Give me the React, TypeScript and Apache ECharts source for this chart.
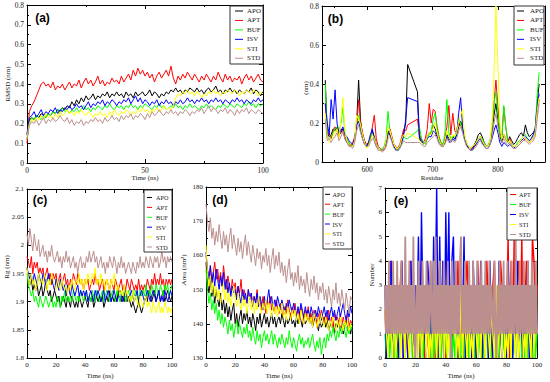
import React, { useEffect, useRef } from "react";
import * as echarts from "echarts";

const SERIF = "'Liberation Serif', 'DejaVu Serif', serif";
const SANS = "'Liberation Sans', Arial, sans-serif";

const names6 = ["APO", "APT", "BUF", "ISV", "STI", "STD"];
const names5 = ["APT", "BUF", "ISV", "STI", "STD"];
const colorOf: Record<string, string> = {
  APO: "#000000", APT: "#ff0000", BUF: "#00ff00", ISV: "#0000ff", STI: "#ffff00", STD: "#bc8f8f",
};

// ---------- time axes (ns) ----------
const time101 = Array.from({ length: 101 }, (_, i) => i);
const time151 = Array.from({ length: 151 }, (_, i) => (i * 100) / 150);

// ---------- (a) RMSD (nm) ----------
const rmsdAPO = [0.15,
  0.22,0.23,0.22,0.24,0.23,0.25,0.24,0.23,0.25,0.24,
  0.26,0.25,0.27,0.26,0.28,0.27,0.29,0.28,0.31,0.29,
  0.32,0.30,0.33,0.31,0.34,0.32,0.33,0.35,0.32,0.34,
  0.33,0.35,0.34,0.36,0.33,0.35,0.34,0.36,0.34,0.35,
  0.33,0.36,0.34,0.35,0.33,0.36,0.34,0.35,0.36,0.34,
  0.35,0.37,0.34,0.36,0.35,0.33,0.35,0.34,0.36,0.35,
  0.37,0.36,0.38,0.36,0.37,0.35,0.37,0.36,0.38,0.37,
  0.36,0.38,0.36,0.37,0.35,0.37,0.38,0.36,0.37,0.39,
  0.36,0.37,0.35,0.37,0.36,0.38,0.36,0.37,0.35,0.37,
  0.36,0.35,0.37,0.36,0.38,0.35,0.37,0.36,0.34,0.36];
const rmsdAPT = [0.10,
  0.26,0.29,0.31,0.34,0.37,0.40,0.41,0.39,0.40,0.38,
  0.41,0.37,0.39,0.38,0.40,0.37,0.39,0.41,0.38,0.40,
  0.39,0.42,0.38,0.41,0.43,0.40,0.42,0.39,0.41,0.44,
  0.40,0.42,0.39,0.41,0.40,0.43,0.41,0.42,0.40,0.44,
  0.41,0.43,0.45,0.42,0.47,0.44,0.48,0.45,0.47,0.44,
  0.46,0.43,0.45,0.41,0.44,0.46,0.43,0.45,0.47,0.44,
  0.49,0.43,0.40,0.44,0.42,0.45,0.43,0.46,0.44,0.42,
  0.45,0.43,0.41,0.44,0.42,0.45,0.43,0.41,0.44,0.42,
  0.46,0.43,0.41,0.45,0.42,0.44,0.41,0.43,0.42,0.44,
  0.40,0.43,0.45,0.42,0.44,0.41,0.43,0.45,0.42,0.41];
const rmsdBUF = [0.12,
  0.21,0.23,0.22,0.24,0.23,0.22,0.24,0.23,0.25,0.24,
  0.26,0.25,0.27,0.25,0.28,0.26,0.27,0.25,0.27,0.26,
  0.28,0.26,0.27,0.29,0.27,0.28,0.26,0.28,0.27,0.29,
  0.28,0.27,0.29,0.28,0.30,0.28,0.27,0.29,0.28,0.29,
  0.27,0.29,0.28,0.30,0.28,0.29,0.27,0.29,0.28,0.30,
  0.29,0.28,0.27,0.29,0.28,0.30,0.28,0.29,0.27,0.28,
  0.29,0.28,0.30,0.28,0.29,0.27,0.29,0.28,0.30,0.28,
  0.29,0.28,0.27,0.29,0.28,0.30,0.28,0.29,0.28,0.27,
  0.29,0.28,0.30,0.29,0.28,0.30,0.29,0.28,0.30,0.29,
  0.28,0.30,0.29,0.31,0.29,0.30,0.28,0.30,0.29,0.30];
const rmsdISV = [0.14,
  0.23,0.24,0.26,0.23,0.25,0.27,0.24,0.26,0.25,0.27,
  0.26,0.28,0.25,0.27,0.26,0.28,0.27,0.29,0.27,0.28,
  0.30,0.28,0.29,0.27,0.29,0.31,0.28,0.30,0.29,0.31,
  0.30,0.32,0.29,0.31,0.30,0.32,0.31,0.29,0.31,0.30,
  0.32,0.31,0.33,0.30,0.32,0.34,0.31,0.33,0.30,0.32,
  0.31,0.29,0.31,0.30,0.32,0.29,0.31,0.30,0.32,0.30,
  0.31,0.29,0.31,0.30,0.32,0.30,0.31,0.33,0.31,0.32,
  0.30,0.32,0.31,0.33,0.31,0.32,0.30,0.32,0.31,0.33,
  0.31,0.32,0.30,0.32,0.31,0.30,0.32,0.31,0.33,0.31,
  0.32,0.30,0.32,0.31,0.30,0.32,0.31,0.33,0.31,0.32];
const rmsdSTI = [0.13,
  0.20,0.22,0.21,0.23,0.22,0.24,0.22,0.25,0.23,0.24,
  0.22,0.25,0.23,0.26,0.24,0.25,0.27,0.25,0.26,0.24,
  0.26,0.25,0.27,0.25,0.24,0.26,0.25,0.23,0.25,0.24,
  0.26,0.24,0.25,0.23,0.26,0.24,0.27,0.25,0.24,0.26,
  0.25,0.27,0.26,0.24,0.26,0.25,0.27,0.26,0.28,0.26,
  0.27,0.25,0.27,0.26,0.28,0.26,0.27,0.29,0.27,0.28,
  0.27,0.29,0.33,0.35,0.34,0.36,0.35,0.37,0.35,0.36,
  0.34,0.36,0.35,0.33,0.35,0.34,0.36,0.35,0.37,0.35,
  0.36,0.34,0.36,0.35,0.37,0.36,0.35,0.37,0.36,0.34,
  0.36,0.35,0.37,0.36,0.35,0.37,0.36,0.34,0.36,0.35];
const rmsdSTD = [0.12,
  0.19,0.21,0.20,0.22,0.19,0.21,0.23,0.20,0.22,0.21,
  0.23,0.21,0.22,0.24,0.22,0.21,0.23,0.20,0.22,0.19,
  0.21,0.20,0.22,0.19,0.21,0.20,0.22,0.21,0.23,0.21,
  0.22,0.20,0.23,0.21,0.22,0.24,0.22,0.23,0.21,0.24,
  0.22,0.24,0.23,0.25,0.22,0.24,0.23,0.25,0.24,0.22,
  0.25,0.23,0.26,0.24,0.25,0.27,0.25,0.24,0.26,0.25,
  0.27,0.25,0.26,0.24,0.26,0.25,0.27,0.26,0.24,0.26,
  0.25,0.27,0.26,0.28,0.25,0.27,0.29,0.26,0.28,0.27,
  0.25,0.27,0.26,0.28,0.25,0.27,0.26,0.24,0.27,0.25,
  0.27,0.26,0.28,0.25,0.27,0.26,0.25,0.27,0.26,0.25];

// ---------- (b) RMSF (nm) per residue ----------
const residues = [536,539,542,545,548,551,554,557,560,563,566,569,572,575,578,581,584,587,590,593,596,599,602,605,608,611,614,617,620,623,626,629,632,635,638,641,644,647,650,653,656,659,662,
  677,680,683,686,689,692,695,698,701,704,707,710,713,716,719,722,725,728,731,734,737,740,743,746,749,752,755,758,761,764,767,770,773,776,779,782,785,788,791,794,797,800,803,806,809,812,815,818,821,824,827,830,833,836,839,842,845,848,851,854,857,860,863];
const rmsfAPO = [0.42,0.15,0.13,0.14,0.17,0.16,0.18,0.14,0.15,0.17,0.12,0.10,0.09,0.08,0.09,0.12,0.20,0.42,0.21,0.14,0.10,0.08,0.09,0.12,0.16,0.13,0.09,0.07,0.06,0.06,0.07,0.10,0.16,0.14,0.11,0.08,0.07,0.06,0.08,0.11,0.15,0.20,0.50,
  0.36,0.12,0.10,0.09,0.10,0.13,0.15,0.14,0.19,0.17,0.14,0.11,0.09,0.08,0.10,0.14,0.12,0.11,0.13,0.12,0.14,0.18,0.21,0.17,0.12,0.09,0.07,0.06,0.07,0.09,0.11,0.14,0.15,0.13,0.10,0.08,0.08,0.10,0.15,0.24,0.30,0.22,0.13,0.10,0.14,0.12,0.10,0.13,0.11,0.09,0.10,0.12,0.14,0.15,0.13,0.19,0.15,0.13,0.14,0.15,0.17,0.30,0.40];
const rmsfAPT = [0.30,0.14,0.15,0.12,0.16,0.18,0.16,0.13,0.17,0.15,0.13,0.11,0.10,0.08,0.10,0.13,0.18,0.32,0.20,0.15,0.11,0.09,0.10,0.11,0.18,0.24,0.12,0.08,0.07,0.06,0.06,0.08,0.14,0.17,0.13,0.09,0.08,0.07,0.09,0.13,0.17,0.16,0.19,
  0.22,0.14,0.12,0.10,0.12,0.17,0.30,0.20,0.27,0.26,0.18,0.13,0.10,0.09,0.12,0.18,0.29,0.14,0.25,0.16,0.15,0.20,0.19,0.16,0.12,0.09,0.08,0.07,0.07,0.08,0.10,0.12,0.13,0.11,0.09,0.08,0.08,0.10,0.17,0.30,0.42,0.28,0.15,0.12,0.28,0.18,0.11,0.12,0.09,0.08,0.07,0.08,0.09,0.10,0.11,0.12,0.11,0.10,0.11,0.12,0.15,0.25,0.32];
const rmsfBUF = [0.40,0.13,0.12,0.13,0.15,0.17,0.18,0.15,0.20,0.28,0.15,0.12,0.10,0.09,0.08,0.11,0.22,0.24,0.18,0.13,0.10,0.08,0.09,0.13,0.15,0.12,0.09,0.07,0.06,0.07,0.08,0.12,0.26,0.15,0.12,0.08,0.07,0.06,0.08,0.10,0.13,0.12,0.12,
  0.16,0.18,0.12,0.10,0.09,0.12,0.14,0.16,0.22,0.25,0.17,0.12,0.10,0.09,0.15,0.32,0.15,0.12,0.13,0.13,0.16,0.22,0.20,0.17,0.13,0.10,0.08,0.07,0.08,0.09,0.10,0.12,0.13,0.12,0.10,0.08,0.09,0.11,0.18,0.30,0.36,0.25,0.14,0.12,0.29,0.18,0.11,0.10,0.09,0.08,0.08,0.10,0.11,0.12,0.13,0.14,0.12,0.11,0.12,0.14,0.16,0.34,0.46];
const rmsfISV = [0.30,0.20,0.14,0.32,0.22,0.37,0.20,0.15,0.16,0.18,0.14,0.13,0.11,0.10,0.09,0.12,0.19,0.21,0.16,0.12,0.09,0.08,0.10,0.14,0.17,0.11,0.08,0.07,0.06,0.06,0.07,0.10,0.15,0.14,0.11,0.08,0.06,0.06,0.07,0.10,0.14,0.22,0.33,
  0.31,0.13,0.11,0.09,0.10,0.12,0.13,0.13,0.16,0.15,0.13,0.10,0.09,0.08,0.10,0.13,0.11,0.10,0.12,0.11,0.14,0.25,0.33,0.18,0.12,0.09,0.07,0.06,0.06,0.08,0.09,0.11,0.12,0.10,0.08,0.07,0.07,0.09,0.12,0.16,0.19,0.15,0.10,0.08,0.10,0.09,0.08,0.09,0.08,0.07,0.08,0.09,0.10,0.11,0.12,0.13,0.12,0.11,0.12,0.14,0.17,0.28,0.35];
const rmsfSTI = [0.25,0.12,0.10,0.11,0.13,0.15,0.17,0.12,0.22,0.33,0.16,0.11,0.09,0.08,0.08,0.11,0.24,0.22,0.19,0.14,0.10,0.07,0.08,0.11,0.14,0.12,0.09,0.07,0.06,0.06,0.07,0.11,0.18,0.16,0.12,0.09,0.07,0.07,0.08,0.12,0.14,0.13,0.15,
  0.12,0.11,0.10,0.09,0.10,0.13,0.15,0.14,0.18,0.20,0.15,0.11,0.09,0.08,0.11,0.16,0.13,0.11,0.14,0.13,0.15,0.21,0.24,0.27,0.14,0.10,0.08,0.07,0.08,0.09,0.10,0.12,0.13,0.11,0.09,0.08,0.08,0.11,0.20,0.45,0.80,0.50,0.20,0.12,0.14,0.12,0.10,0.11,0.09,0.08,0.08,0.09,0.10,0.12,0.13,0.12,0.11,0.10,0.11,0.12,0.15,0.26,0.33];
const rmsfSTD = [0.22,0.11,0.12,0.10,0.12,0.13,0.15,0.11,0.13,0.16,0.12,0.10,0.08,0.08,0.07,0.10,0.16,0.19,0.15,0.12,0.09,0.08,0.08,0.10,0.12,0.11,0.08,0.06,0.06,0.05,0.06,0.08,0.12,0.13,0.10,0.07,0.06,0.06,0.07,0.09,0.11,0.10,0.10,
  0.10,0.10,0.09,0.08,0.08,0.10,0.11,0.12,0.13,0.14,0.12,0.09,0.08,0.08,0.09,0.12,0.10,0.10,0.11,0.10,0.12,0.16,0.18,0.15,0.11,0.08,0.07,0.06,0.06,0.07,0.08,0.10,0.11,0.09,0.08,0.07,0.07,0.09,0.13,0.20,0.25,0.18,0.12,0.10,0.12,0.10,0.09,0.10,0.08,0.07,0.07,0.08,0.09,0.10,0.11,0.11,0.10,0.09,0.10,0.11,0.13,0.22,0.30];

// ---------- (c) Rg (nm) ----------
const rgAPO = [1.96,1.94,1.93,1.94,1.92,1.93,1.92,1.93,1.91,1.92,
  1.93,1.91,1.92,1.94,1.92,1.91,1.92,1.90,1.91,1.92,
  1.91,1.90,1.91,1.89,1.90,1.91,1.90,1.89,1.91,1.90,
  1.89,1.91,1.90,1.89,1.90,1.89,1.91,1.90,1.89,1.90,
  1.91,1.90,1.89,1.91,1.90,1.91,1.89,1.90,1.91,1.90,
  1.91,1.90,1.91,1.89,1.90,1.91,1.90,1.92,1.90,1.91,
  1.90,1.91,1.90,1.92,1.91,1.90,1.91,1.90,1.92,1.90,
  1.91,1.90,1.89,1.90,1.89,1.88,1.89,1.90,1.89,1.88,
  1.89,1.90,1.91,1.90,1.92,1.91,1.90,1.91,1.92,1.90,
  1.91,1.92,1.90,1.91,1.92,1.90,1.91,1.92,1.91,1.90,1.91];
const rgAPT = [1.98,1.97,1.96,1.98,1.95,1.97,1.96,1.97,1.95,1.96,
  1.95,1.96,1.94,1.95,1.96,1.94,1.95,1.93,1.95,1.94,
  1.95,1.93,1.94,1.95,1.93,1.94,1.95,1.93,1.94,1.92,
  1.94,1.93,1.95,1.94,1.93,1.95,1.94,1.93,1.94,1.92,
  1.94,1.93,1.94,1.92,1.93,1.94,1.93,1.95,1.93,1.94,
  1.92,1.93,1.94,1.92,1.93,1.94,1.93,1.92,1.94,1.93,
  1.92,1.94,1.93,1.92,1.93,1.94,1.92,1.93,1.92,1.94,
  1.93,1.92,1.94,1.93,1.92,1.93,1.92,1.94,1.92,1.93,
  1.92,1.93,1.92,1.94,1.93,1.92,1.94,1.93,1.95,1.93,
  1.94,1.93,1.95,1.93,1.94,1.92,1.94,1.93,1.94,1.93,1.94];
const rgBUF = [1.95,1.93,1.92,1.91,1.92,1.90,1.91,1.90,1.89,1.91,
  1.90,1.89,1.90,1.91,1.90,1.89,1.90,1.91,1.89,1.90,
  1.89,1.91,1.90,1.89,1.91,1.90,1.92,1.90,1.91,1.90,
  1.91,1.90,1.92,1.91,1.90,1.91,1.90,1.92,1.91,1.90,
  1.91,1.92,1.90,1.91,1.90,1.92,1.91,1.90,1.92,1.91,
  1.90,1.91,1.92,1.90,1.91,1.92,1.91,1.90,1.91,1.92,
  1.91,1.90,1.92,1.91,1.90,1.92,1.91,1.92,1.90,1.91,
  1.92,1.91,1.90,1.92,1.91,1.92,1.91,1.90,1.92,1.91,
  1.92,1.91,1.93,1.91,1.92,1.91,1.93,1.92,1.91,1.93,
  1.92,1.91,1.93,1.92,1.91,1.93,1.92,1.93,1.91,1.92,1.93];
const rgISV = [1.96,1.95,1.94,1.95,1.93,1.95,1.94,1.93,1.95,1.94,
  1.93,1.95,1.94,1.93,1.94,1.95,1.93,1.94,1.93,1.92,
  1.94,1.93,1.92,1.94,1.93,1.92,1.93,1.91,1.93,1.92,
  1.91,1.93,1.92,1.91,1.92,1.93,1.91,1.92,1.91,1.92,
  1.91,1.92,1.90,1.91,1.92,1.91,1.90,1.92,1.91,1.92,
  1.91,1.90,1.91,1.92,1.90,1.91,1.92,1.91,1.90,1.91,
  1.92,1.91,1.90,1.91,1.92,1.91,1.90,1.91,1.92,1.91,
  1.90,1.91,1.92,1.91,1.90,1.91,1.92,1.90,1.91,1.92,
  1.91,1.90,1.91,1.92,1.91,1.90,1.91,1.92,1.91,1.90,
  1.91,1.92,1.90,1.91,1.90,1.92,1.91,1.90,1.91,1.92,1.91];
const rgSTI = [1.96,1.94,1.93,1.95,1.93,1.94,1.92,1.93,1.95,1.93,
  1.94,1.93,1.95,1.94,1.92,1.94,1.93,1.95,1.94,1.93,
  1.92,1.94,1.93,1.92,1.94,1.93,1.92,1.93,1.91,1.93,
  1.92,1.94,1.93,1.92,1.94,1.93,1.95,1.93,1.94,1.92,
  1.94,1.93,1.95,1.94,1.93,1.95,1.94,1.96,1.93,1.94,
  1.93,1.95,1.93,1.94,1.92,1.94,1.93,1.92,1.94,1.93,
  1.95,1.93,1.92,1.93,1.91,1.92,1.91,1.93,1.91,1.92,
  1.90,1.91,1.90,1.92,1.90,1.91,1.90,1.89,1.91,1.90,
  1.89,1.90,1.91,1.89,1.90,1.89,1.88,1.90,1.89,1.88,
  1.89,1.90,1.88,1.89,1.88,1.90,1.89,1.88,1.89,1.88,1.89];
const rgSTD = [2.02,2.00,2.03,2.01,1.99,2.02,2.00,1.99,2.01,1.98,
  1.99,2.00,1.98,1.99,1.97,1.99,1.98,2.00,1.98,1.97,
  1.98,1.99,1.97,1.98,1.96,1.98,1.97,1.99,1.97,1.98,
  1.96,1.97,1.98,1.96,1.97,1.95,1.97,1.98,1.96,1.97,
  1.96,1.98,1.97,1.99,1.97,1.98,1.99,1.97,1.98,1.96,
  1.97,1.98,1.96,1.97,1.95,1.97,1.96,1.98,1.97,1.96,
  1.98,1.97,1.95,1.97,1.96,1.98,1.96,1.97,1.95,1.96,
  1.97,1.96,1.95,1.97,1.96,1.95,1.97,1.96,1.98,1.96,
  1.97,1.96,1.98,1.97,1.96,1.98,1.97,1.96,1.98,1.97,
  1.98,1.96,1.97,1.99,1.97,1.98,1.96,1.98,1.97,1.98,1.97];

// ---------- (d) SASA (nm^2) ----------
const areaAPO = [158,152,149,154,148,151,146,150,147,145,
  149,144,147,143,146,142,145,141,144,146,
  140,143,139,142,144,140,143,141,144,140,
  142,139,143,141,138,142,140,143,139,141,
  143,140,142,139,141,143,140,142,139,141,
  142,140,143,141,139,142,140,141,143,140,
  141,139,142,140,143,141,139,142,140,141,
  143,140,142,139,141,142,140,138,141,139,
  140,142,139,141,138,140,139,141,137,140,
  139,141,138,140,137,139,141,138,140,137,139];
const areaAPT = [160,156,153,157,152,155,158,153,156,152,
  155,151,157,153,150,154,151,149,153,150,
  152,148,151,149,153,147,150,148,146,150,
  147,149,145,148,146,150,145,147,144,148,
  146,143,147,145,148,144,146,143,147,145,
  143,146,144,142,145,143,147,144,142,145,
  143,146,142,144,141,145,143,140,144,142,
  145,141,143,140,144,142,139,143,141,144,
  142,140,143,141,144,140,142,139,143,141,
  142,140,143,139,142,140,141,143,139,141,140];
const areaBUF = [156,150,146,149,144,147,143,146,141,144,
  140,143,139,142,140,137,141,138,140,136,
  139,141,137,140,138,136,139,137,140,136,
  138,135,139,136,134,138,135,137,133,136,
  138,135,137,134,136,138,134,137,135,133,
  136,134,137,135,133,136,134,138,135,133,
  136,134,132,135,137,134,136,133,135,134,
  136,133,135,137,134,132,135,133,136,131,
  134,136,133,137,135,138,136,139,137,135,
  138,136,139,137,140,138,136,139,137,140,138];
const areaISV = [161,156,153,157,152,155,151,156,153,150,
  154,151,155,150,153,149,152,148,151,149,
  150,147,151,148,146,150,147,149,146,150,
  147,149,145,148,146,149,145,148,146,144,
  148,145,147,150,146,148,144,147,145,148,
  146,144,147,145,143,146,144,147,145,143,
  146,144,142,145,143,146,144,142,145,143,
  144,142,145,143,141,144,142,145,143,141,
  143,145,142,144,141,143,145,142,144,141,
  143,145,142,144,146,143,141,144,142,145,143];
const areaSTI = [163,155,151,154,149,152,148,151,147,150,
  146,149,152,147,150,146,149,145,148,151,
  147,145,149,146,144,148,145,147,143,146,
  148,144,147,143,146,144,148,145,143,146,
  144,147,143,146,144,142,146,143,145,142,
  145,143,146,142,144,141,145,143,141,144,
  142,144,141,143,140,144,142,140,143,141,
  143,140,142,139,143,141,139,142,140,143,
  141,139,142,140,138,141,139,142,140,138,
  141,139,142,140,138,141,139,141,138,140,139];
const areaSTD = [175,170,167,171,165,168,163,167,164,169,
  165,162,167,163,166,161,165,168,162,166,
  163,160,165,161,164,159,163,166,160,164,
  161,158,163,160,157,162,159,161,156,160,
  158,162,157,160,155,159,162,156,160,157,
  161,155,158,154,157,152,156,159,153,155,
  151,155,152,157,150,154,151,153,149,155,
  151,148,153,150,154,149,152,147,151,149,
  152,147,150,146,151,148,145,150,147,152,
  146,149,145,150,147,144,149,146,143,148,147];

// ---------- (e) hydrogen bond number ----------
const hbAPT = [2,0,3,1,4,0,2,3,0,1, 3,4,0,2,1,0,3,4,1,0, 2,3,0,1,4,2,0,3,1,0, 4,1,2,0,3,1,4,0,2,1,
  0,3,4,1,0,2,3,1,4,0, 2,1,0,3,4,1,0,2,3,0, 1,4,2,0,3,1,0,4,2,1, 0,3,4,1,2,0,4,3,1,0,
  2,5,0,4,1,5,0,3,4,1, 5,0,2,4,1,3,0,5,4,1, 3];
const hbBUF = [1,0,2,0,1,3,0,2,0,1, 0,2,1,0,3,0,1,2,0,1, 0,3,1,0,2,0,1,0,3,1, 0,2,0,1,0,3,1,0,2,0,
  1,0,2,3,0,1,0,2,0,1, 0,3,0,1,2,0,1,0,3,0, 2,0,1,0,2,0,3,1,0,2, 0,1,3,0,1,0,2,0,1,0,
  3,0,2,1,0,1,0,3,0,2, 0,1,0,2,0,3,1,0,2,0, 1];
const hbISV = [3,0,2,1,4,0,2,3,1,0, 2,4,0,1,3,0,2,4,1,0, 3,1,5,0,6,2,1,0,4,3, 1,0,5,2,7,0,5,1,4,0,
  6,2,6,0,4,5,1,3,0,2, 4,1,5,0,2,3,1,0,4,2, 0,3,1,4,0,2,1,3,0,4, 1,0,3,2,0,4,1,0,2,3,
  0,4,1,2,0,3,1,4,0,2, 1,0,3,1,4,0,2,1,0,3, 1];
const hbSTI = [2,1,0,3,1,0,2,0,1,3, 0,1,2,0,3,1,0,2,1,0, 1,3,0,2,0,1,3,0,2,0, 1,0,3,1,0,2,0,1,3,0,
  2,0,1,0,3,1,2,0,1,0, 3,0,2,1,0,3,0,1,0,2, 1,0,3,0,2,1,0,3,1,0, 2,1,0,3,0,1,2,0,3,0,
  1,0,2,0,3,1,0,2,0,1, 3,0,1,0,2,1,0,3,0,2, 1];
const hbSTD = [3,1,3,1,4,1,3,1,4,1, 3,1,4,1,3,1,4,1,3,1, 5,1,3,1,4,1,3,1,5,1, 0,3,1,4,1,3,1,4,1,3,
  1,4,1,3,1,4,2,1,4,1, 5,1,3,1,4,1,3,1,4,1, 3,1,4,1,3,0,4,1,3,1, 4,1,3,1,4,5,1,3,1,4,
  1,3,1,4,1,3,1,4,1,3, 1,4,1,3,1,4,1,3,1,4, 1,3,1,4,1,3,2,1,4,1, 0,3,1,4,1,3,1,4,1,3,
  1,4,1,3,1,4,1,3,1,5, 1,3,1,4,1,3,1,4,1,3, 1,4,1,3,1,4,1,3,1,4, 1];

// ---------- tick values ----------
const aXMajor = [0, 50, 100];
const aXMinor = [25, 75];
const aYMajor = [0, 0.1, 0.2, 0.3, 0.4, 0.5, 0.6, 0.7, 0.8];
const aYMinor = [0.05, 0.15, 0.25, 0.35, 0.45, 0.55, 0.65, 0.75];
const bXMajor = [600, 700, 800];
const bXMinor = [550, 650, 750, 850];
const bYMajor = [0, 0.2, 0.4, 0.6, 0.8];
const bYMinor = [0.1, 0.3, 0.5, 0.7];
const tXMajor = [0, 20, 40, 60, 80, 100];
const tXMinor = [10, 30, 50, 70, 90];
const cYMajor = [1.8, 1.85, 1.9, 1.95, 2, 2.05, 2.1];
const cYMinor = [1.825, 1.875, 1.925, 1.975, 2.025, 2.075];
const dYMajor = [130, 140, 150, 160, 170, 180];
const dYMinor = [135, 145, 155, 165, 175];
const eYMajor = [0, 1, 2, 3, 4, 5, 6, 7];
const eYMinor = [0.5, 1.5, 2.5, 3.5, 4.5, 5.5, 6.5];

const fmt = (v: number) => String(+Number(v).toFixed(3));

function pairs(xs: number[], ys: number[]) {
  return ys.map((y, i) => [xs[i], y]);
}

function makeAxes(dim: "x" | "y", gi: number, min: number, max: number, maj: number[], mnr: number[], fs: number, margin: number) {
  const pos = dim === "x" ? ["bottom", "top"] : ["left", "right"];
  const base = { type: "value", gridIndex: gi, min, max, splitLine: { show: false }, silent: true };
  const line = { show: true, onZero: false, lineStyle: { color: "#000", width: 1 } };
  const noLine = { show: false, onZero: false };
  const tMaj = { show: true, inside: true, length: 4, customValues: maj, lineStyle: { color: "#000", width: 1 } };
  const tMin = { show: true, inside: true, length: 2, customValues: mnr, lineStyle: { color: "#000", width: 1 } };
  return [
    { ...base, position: pos[0], axisLine: line, axisTick: tMaj,
      axisLabel: { show: true, customValues: maj, margin, fontSize: fs, fontFamily: SERIF, color: "#222", formatter: fmt } },
    { ...base, position: pos[0], axisLine: noLine, axisTick: tMin, axisLabel: { show: false } },
    { ...base, position: pos[1], axisLine: line, axisTick: tMaj, axisLabel: { show: false } },
    { ...base, position: pos[1], axisLine: noLine, axisTick: tMin, axisLabel: { show: false } },
  ];
}

function legendEls(bx: number, by: number, bw: number, bh: number, names: string[], lx1: number, lx2: number, tx: number, y0: number, step: number, fs: number) {
  const els: any[] = [
    { type: "rect", z: 100, shape: { x: bx, y: by, width: bw, height: bh }, style: { fill: "#fff", stroke: "#333", lineWidth: 1 } },
  ];
  names.forEach((n, i) => {
    const y = y0 + i * step;
    els.push({ type: "line", z: 101, shape: { x1: lx1, y1: y, x2: lx2, y2: y }, style: { stroke: colorOf[n], lineWidth: 1 } });
    els.push({ type: "text", z: 101, x: tx, y, style: { text: n, fontSize: fs, fontFamily: SERIF, fill: "#222", align: "left", verticalAlign: "middle" } });
  });
  return els;
}

function textEl(text: string, x: number, y: number, fs: number, opts: any = {}) {
  return {
    type: "text", z: 102, x, y, rotation: opts.rotation || 0,
    style: { text, fontSize: fs, fontFamily: opts.family || SERIF, fontWeight: opts.weight || "normal", fill: opts.fill || "#222", align: "center", verticalAlign: "middle" },
  };
}

export default function App() {
  const ref = useRef<HTMLDivElement>(null);
  useEffect(() => {
    if (!ref.current) return;
    const chart = echarts.init(ref.current, undefined, { renderer: "svg" });

    const grids = [
      { left: 27, top: 5, width: 236, height: 158 },
      { left: 322, top: 6, width: 223, height: 156 },
      { left: 27, top: 189, width: 145, height: 169 },
      { left: 206, top: 187, width: 146, height: 171 },
      { left: 385, top: 188, width: 152, height: 170 },
    ];

    const xAxes: any[] = [
      ...makeAxes("x", 0, 0, 100, aXMajor, aXMinor, 7.5, 3),
      ...makeAxes("x", 1, 531, 872, bXMajor, bXMinor, 7.5, 3),
      ...makeAxes("x", 2, 0, 100, tXMajor, tXMinor, 7, 3),
      ...makeAxes("x", 3, 0, 100, tXMajor, tXMinor, 7, 3),
      ...makeAxes("x", 4, 0, 100, tXMajor, tXMinor, 7, 3),
    ];
    const yAxes: any[] = [
      ...makeAxes("y", 0, 0, 0.8, aYMajor, aYMinor, 7.5, 3),
      ...makeAxes("y", 1, 0, 0.8, bYMajor, bYMinor, 7.5, 3),
      ...makeAxes("y", 2, 1.8, 2.1, cYMajor, cYMinor, 7, 3),
      ...makeAxes("y", 3, 130, 180, dYMajor, dYMinor, 7, 3),
      ...makeAxes("y", 4, 0, 7, eYMajor, eYMinor, 7, 3),
    ];

    const series: any[] = [];
    const add = (gi: number, name: string, xs: number[], ys: number[], w = 1) => {
      series.push({
        type: "line", name, xAxisIndex: gi * 4, yAxisIndex: gi * 4, data: pairs(xs, ys),
        showSymbol: false, symbol: "none", silent: true, animation: false, clip: true,
        lineStyle: { color: colorOf[name], width: w }, itemStyle: { color: colorOf[name] },
      });
    };
    const aData = [rmsdAPO, rmsdAPT, rmsdBUF, rmsdISV, rmsdSTI, rmsdSTD];
    const bData = [rmsfAPO, rmsfAPT, rmsfBUF, rmsfISV, rmsfSTI, rmsfSTD];
    const cData = [rgAPO, rgAPT, rgBUF, rgISV, rgSTI, rgSTD];
    const dData = [areaAPO, areaAPT, areaBUF, areaISV, areaSTI, areaSTD];
    names6.forEach((n, i) => add(0, n, time101, aData[i]));
    names6.forEach((n, i) => add(1, n, residues, bData[i]));
    names6.forEach((n, i) => add(2, n, time101, cData[i]));
    names6.forEach((n, i) => add(3, n, time101, dData[i]));
    add(4, "APT", time101, hbAPT, 1.4);
    add(4, "BUF", time101, hbBUF, 1.4);
    add(4, "ISV", time101, hbISV, 1.4);
    add(4, "STI", time101, hbSTI, 1.4);
    add(4, "STD", time151, hbSTD, 1.8);

    const graphics: any[] = [
      ...legendEls(230, 6, 33, 58, names6, 235, 243, 247, 11, 9.45, 7),
      ...legendEls(514, 6, 30, 59, names6, 517, 524, 530, 11, 9.45, 7),
      ...legendEls(144, 190, 28, 62, names6, 147, 152, 156, 197.5, 9.9, 6.2),
      ...legendEls(323, 187, 29, 62, names6, 325, 330, 332.5, 194.3, 9.9, 6.2),
      ...legendEls(507, 188, 30, 52, names5, 510, 516, 519, 194.5, 10, 6.2),
      textEl("(a)", 42.5, 18, 12, { family: SANS, weight: "bold", fill: "#000" }),
      textEl("(b)", 335.5, 19, 12, { family: SANS, weight: "bold", fill: "#000" }),
      textEl("(c)", 40, 200, 12, { family: SANS, weight: "bold", fill: "#000" }),
      textEl("(d)", 220, 200, 12, { family: SANS, weight: "bold", fill: "#000" }),
      textEl("(e)", 401, 200.5, 12, { family: SANS, weight: "bold", fill: "#000" }),
      textEl("Time (ns)", 145, 178, 7),
      textEl("RMSD (nm)", 8, 84, 7, { rotation: Math.PI / 2 }),
      textEl("Residue", 432, 178, 7),
      textEl("(nm)", 306, 88, 7, { rotation: Math.PI / 2 }),
      textEl("Rg (nm)", 7, 267, 7, { rotation: Math.PI / 2 }),
      textEl("Time (ns)", 100, 376, 7),
      textEl("Area (nm²)", 184, 270, 7, { rotation: Math.PI / 2 }),
      textEl("Time (ns)", 279, 376, 7),
      textEl("Number", 371.5, 275, 7, { rotation: Math.PI / 2 }),
      textEl("Time (ns)", 461, 376, 7),
    ];

    chart.setOption({
      animation: false,
      backgroundColor: "#fff",
      grid: grids,
      xAxis: xAxes,
      yAxis: yAxes,
      series,
      graphic: { elements: graphics },
    });
    return () => chart.dispose();
  }, []);
  return <div ref={ref} style={{ position: "absolute", left: 0, top: 0, width: 550, height: 382, background: "#fff" }} />;
}
